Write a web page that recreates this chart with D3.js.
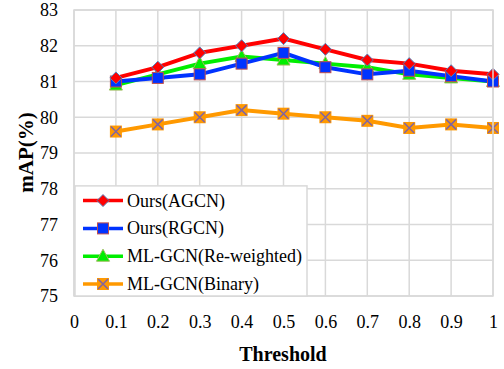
<!DOCTYPE html>
<html>
<head>
<meta charset="utf-8">
<script src="https://cdn.jsdelivr.net/npm/d3@7"></script>
<style>
  body { margin: 0; background: #fff; }
  svg text { font-family: 'Liberation Serif', serif !important; }
</style>
</head>
<body>
<div id="chart"></div>
<script>
// data
const thresholds = [0.1, 0.2, 0.3, 0.4, 0.5, 0.6, 0.7, 0.8, 0.9, 1.0];
const agcn = [81.1, 81.4, 81.8, 82.0, 82.2, 81.9, 81.6, 81.5, 81.3, 81.2];
const rgcn = [81.0, 81.1, 81.2, 81.5, 81.8, 81.4, 81.2, 81.3, 81.15, 81.0];
const reweighted = [80.9, 81.2, 81.5, 81.7, 81.6, 81.5, 81.4, 81.2, 81.1, 81.0];
const binary = [79.6, 79.8, 80.0, 80.2, 80.1, 80.0, 79.9, 79.7, 79.8, 79.7];
const xTicks = [0, 0.1, 0.2, 0.3, 0.4, 0.5, 0.6, 0.7, 0.8, 0.9, 1];
const yTicks = [75, 76, 77, 78, 79, 80, 81, 82, 83];

const series = [
  { name: 'Ours(AGCN)', values: agcn, color: '#ff0000', marker: 'diamond', fill: '#ff0000', edge: '#4f81bd' },
  { name: 'Ours(RGCN)', values: rgcn, color: '#0033ff', marker: 'square', fill: '#0033ff', edge: '#c0504d' },
  { name: 'ML-GCN(Re-weighted)', values: reweighted, color: '#00ee00', marker: 'triangle', fill: '#00ee00', edge: '#9bbb59' },
  { name: 'ML-GCN(Binary)', values: binary, color: '#ff9900', marker: 'x', fill: '#ff9900', edge: '#8064a2' }
];

const FONT = "'Liberation Serif', serif";
const width = 504, height = 369;
const margin = { top: 10, right: 11, bottom: 73, left: 74 };
const w = width - margin.left - margin.right;
const h = height - margin.top - margin.bottom;

const svg = d3.select('#chart').append('svg')
  .attr('width', width).attr('height', height)
  .style('font-family', FONT);

const x = d3.scaleLinear().domain([0, 1]).range([0, w]);
const y = d3.scaleLinear().domain([75, 83]).range([h, 0]);

const g = svg.append('g').attr('transform', `translate(${margin.left},${margin.top})`);

// grid
g.selectAll('.vgrid').data(xTicks).enter().append('line')
  .attr('x1', d => x(d)).attr('x2', d => x(d))
  .attr('y1', 0).attr('y2', h)
  .attr('stroke', '#d9d9d9').attr('stroke-width', 1.5);
g.selectAll('.hgrid').data(yTicks).enter().append('line')
  .attr('x1', 0).attr('x2', w)
  .attr('y1', d => y(d)).attr('y2', d => y(d))
  .attr('stroke', '#d9d9d9').attr('stroke-width', 1.5);

// axes (labels only)
const xAxis = g.append('g').attr('transform', `translate(0,${h})`)
  .call(d3.axisBottom(x).tickValues(xTicks).tickSize(0).tickPadding(19).tickFormat(d => d3.format('')(d)));
const yAxis = g.append('g')
  .call(d3.axisLeft(y).tickValues(yTicks).tickSize(0).tickPadding(16));
[xAxis, yAxis].forEach(a => {
  a.attr('font-family', FONT).attr('font-size', 18);
  a.select('.domain').remove();
  a.selectAll('text').attr('fill', '#000');
});

svg.append('text')
  .attr('x', 283).attr('y', 361)
  .attr('text-anchor', 'middle')
  .attr('font-size', 20).attr('font-weight', 'bold')
  .text('Threshold');
svg.append('text')
  .attr('transform', 'translate(33,152.5) rotate(-90)')
  .attr('text-anchor', 'middle')
  .attr('font-size', 21).attr('font-weight', 'bold')
  .text('mAP(%)');

function drawMarker(sel, s, cx, cy) {
  if (s.marker === 'diamond') {
    sel.append('path')
      .attr('d', `M${cx},${cy - 6}L${cx + 6},${cy}L${cx},${cy + 6}L${cx - 6},${cy}Z`)
      .attr('fill', s.fill).attr('stroke', s.edge).attr('stroke-width', 1);
  } else if (s.marker === 'square') {
    sel.append('rect')
      .attr('x', cx - 5.5).attr('y', cy - 5.5).attr('width', 11).attr('height', 11)
      .attr('fill', s.fill).attr('stroke', s.edge).attr('stroke-width', 1);
  } else if (s.marker === 'triangle') {
    sel.append('path')
      .attr('d', `M${cx},${cy - 7}L${cx + 6.5},${cy + 5}L${cx - 6.5},${cy + 5}Z`)
      .attr('fill', s.fill).attr('stroke', s.edge).attr('stroke-width', 1);
  } else {
    sel.append('rect')
      .attr('x', cx - 6).attr('y', cy - 6).attr('width', 12).attr('height', 12)
      .attr('fill', s.fill);
    sel.append('path')
      .attr('d', `M${cx - 5},${cy - 5}L${cx + 5},${cy + 5}M${cx + 5},${cy - 5}L${cx - 5},${cy + 5}`)
      .attr('stroke', s.edge).attr('stroke-width', 1.5);
  }
}

const line = d3.line().x(d => x(d[0])).y(d => y(d[1]));

// draw binary first so AGCN sits on top
series.slice().reverse().forEach(s => {
  const pts = thresholds.map((t, i) => [t, s.values[i]]);
  g.append('path').datum(pts)
    .attr('d', line)
    .attr('fill', 'none').attr('stroke', s.color).attr('stroke-width', 4);
  const mg = g.append('g');
  pts.forEach(p => drawMarker(mg, s, x(p[0]), y(p[1])));
});

// plot border
g.append('rect').attr('x', 0).attr('y', 0).attr('width', w).attr('height', h)
  .attr('fill', 'none').attr('stroke', '#d9d9d9').attr('stroke-width', 1.5);

// legend
const legTop = y(78.08);
const leg = g.append('g').attr('transform', `translate(1,${legTop})`);
leg.append('rect').attr('x', 0).attr('y', 0).attr('width', 232).attr('height', h - legTop)
  .attr('fill', '#fff').attr('stroke', '#d9d9d9').attr('stroke-width', 1.5);
series.forEach((s, i) => {
  const ly = 14.7 + i * 27.8;
  leg.append('line').attr('x1', 8).attr('x2', 48).attr('y1', ly).attr('y2', ly)
    .attr('stroke', s.color).attr('stroke-width', 3.5);
  drawMarker(leg, s, 28, ly);
  leg.append('text').attr('x', 52).attr('y', ly + 6)
    .attr('font-size', 18).attr('fill', '#000').text(s.name);
});
</script>
</body>
</html>
